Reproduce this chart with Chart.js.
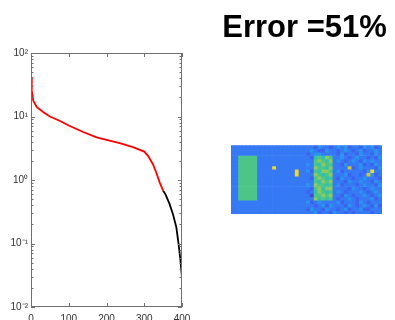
<!DOCTYPE html>
<html>
<head>
<meta charset="utf-8">
<script src="https://cdn.jsdelivr.net/npm/chart.js@4.4.1/dist/chart.umd.min.js"></script>
<style>
  html, body { margin: 0; padding: 0; background: #fff; }
  #wrap { position: relative; width: 395px; height: 320px; overflow: hidden; }
  canvas { position: absolute; top: 0; }
  #spectrum { left: 0; }
  #weights { left: 200px; }
</style>
</head>
<body>
<div id="wrap">
  <canvas id="spectrum" width="200" height="320"></canvas>
  <canvas id="weights" width="195" height="320"></canvas>
</div>
<script>
// singular value spectrum, sampled along the index axis
const sigmaIndex = [0, 2, 6, 15, 33, 50, 77, 100, 138, 174, 200, 235, 270, 300, 310, 323, 332, 341, 350, 356, 367, 376, 385, 391, 396, 400];
const sigmaValue = [41.7, 25.8, 17.8, 14.1, 11.7, 10.0, 8.5, 7.2, 5.7, 4.7, 4.3, 3.8, 3.3, 2.8, 2.4, 1.77, 1.3, 0.91, 0.68, 0.6, 0.42, 0.29, 0.18, 0.098, 0.054, 0.029];
const cutoffIndex = 350;   // kept components in red, dropped ones in black

const xTicks = [0, 100, 200, 300, 400];
const yTicks = [0.01, 0.1, 1, 10, 100];
const yTickLabels = ['10⁻²', '10⁻¹', '10⁰', '10¹', '10²'];

const titleText = 'Error =51%';

// weight image, 20 rows x 40 columns, one level (0-9) per cell
const weightRows = [
  '2222222222222222222222132212323122132312',
  '2222222222222222222223211322123212312232',
  '2222222222222222222212332222131221322132',
  '2266666222222222222221565762232123221213',
  '2266666222222222222222676572321232132322',
  '2266666222222222222232657662213222312132',
  '2266666222292222222222766572222812322213',
  '2266666222222222292231657762312222213922',
  '2266666222222222292222765672223122128312',
  '2266666222222222222221676562132212232221',
  '2266666222222222222222657672221322322132',
  '2266666222222222222232766562312221232213',
  '2266666222222222222221675772222132212322',
  '2266666222222222222212576562321222321232',
  '2266666222222222222220667672213212232123',
  '2266666222222222222222756562122321222312',
  '2222222222222222222231232222312221321222',
  '2222222222222222222222123132221321232131',
  '2222222222222222222213221322123122311222',
  '2222222222222222222222312213221212222122'
];

// parula-like colour for each level
const levelColors = ['#4a47d6', '#3d62ef', '#3579f4', '#2a93ee', '#1fb0d8',
                     '#33bfae', '#4cc688', '#8cc95e', '#d6c53a', '#f5d824'];

Chart.defaults.font.family = '"Liberation Sans", Arial, sans-serif';

// box around the plot with inward major/minor tick marks
const axesBox = {
  id: 'axesBox',
  afterDraw(chart) {
    const { ctx, chartArea: a, scales: { x, y } } = chart;
    ctx.save();
    ctx.strokeStyle = '#707070';
    ctx.lineWidth = 1;
    ctx.strokeRect(a.left + 0.5, a.top + 0.5, a.right - a.left - 1, a.bottom - a.top - 1);
    ctx.beginPath();
    xTicks.forEach(v => {
      const px = Math.round(x.getPixelForValue(v)) + 0.5;
      ctx.moveTo(px, a.bottom); ctx.lineTo(px, a.bottom - 4);
      ctx.moveTo(px, a.top); ctx.lineTo(px, a.top + 4);
    });
    for (let e = -2; e < 2; e++) {
      for (let m = 1; m < 10; m++) {
        const len = m === 1 ? 4 : 2.5;
        const py = Math.round(y.getPixelForValue(m * Math.pow(10, e))) + 0.5;
        ctx.moveTo(a.left, py); ctx.lineTo(a.left + len, py);
        ctx.moveTo(a.right, py); ctx.lineTo(a.right - len, py);
      }
    }
    ctx.stroke();
    ctx.restore();
  }
};

const tickFont = { size: 10 };
const tickColor = '#333';

new Chart(document.getElementById('spectrum'), {
  type: 'line',
  data: {
    datasets: [{
      data: sigmaIndex.map((x, i) => ({ x: x, y: sigmaValue[i] })),
      borderColor: '#ff0000',
      borderWidth: 1.8,
      pointRadius: 0,
      segment: {
        borderColor: ctx => ctx.p0.parsed.x >= cutoffIndex ? '#000000' : '#ff0000'
      }
    }]
  },
  options: {
    responsive: false,
    animation: false,
    devicePixelRatio: 1,
    layout: { padding: { top: 53, right: 18, left: 0, bottom: 0 } },
    plugins: { legend: { display: false }, tooltip: { enabled: false } },
    scales: {
      x: {
        type: 'linear',
        min: 0,
        max: 400,
        afterBuildTicks: s => { s.ticks = xTicks.map(v => ({ value: v })); },
        afterFit: s => { s.height = 13; },
        grid: { display: false, drawTicks: false },
        border: { display: false },
        ticks: { padding: 6, maxRotation: 0, font: tickFont, color: tickColor }
      },
      y: {
        type: 'logarithmic',
        min: 0.01,
        max: 100,
        afterBuildTicks: s => { s.ticks = yTicks.map(v => ({ value: v })); },
        afterFit: s => { s.width = 31; },
        grid: { display: false, drawTicks: false },
        border: { display: false },
        ticks: { padding: 3, font: tickFont, color: tickColor, callback: (v, i) => yTickLabels[i] }
      }
    }
  },
  plugins: [axesBox]
});

// empty side axes only reserve room so the image sits under the title
const spacer = w => ({
  display: true,
  grid: { display: false, drawTicks: false },
  border: { display: false },
  ticks: { display: false },
  afterFit: s => { s.width = w; }
});

const nRows = weightRows.length;
new Chart(document.getElementById('weights'), {
  type: 'bar',
  data: {
    labels: Array.from(weightRows[0], (c, i) => i),
    datasets: weightRows.map((row, r) => ({
      data: Array.from(row, () => [r, r + 1]),
      backgroundColor: Array.from(row, ch => levelColors[+ch]),
      borderWidth: 0,
      barPercentage: 1,
      categoryPercentage: 1,
      grouped: false
    }))
  },
  options: {
    responsive: false,
    animation: false,
    devicePixelRatio: 1,
    layout: { padding: { top: 0, left: 20, right: 6, bottom: 106 } },
    plugins: {
      legend: { display: false },
      tooltip: { enabled: false },
      title: {
        display: true,
        text: titleText,
        color: '#000',
        font: { size: 31, weight: 'bold' },
        padding: { top: 10, bottom: 98 }
      }
    },
    scales: {
      x: { display: false },
      y: Object.assign(spacer(11), { min: 0, max: nRows, reverse: true }),
      yRight: Object.assign(spacer(7), { position: 'right' })
    }
  }
});
</script>
</body>
</html>
